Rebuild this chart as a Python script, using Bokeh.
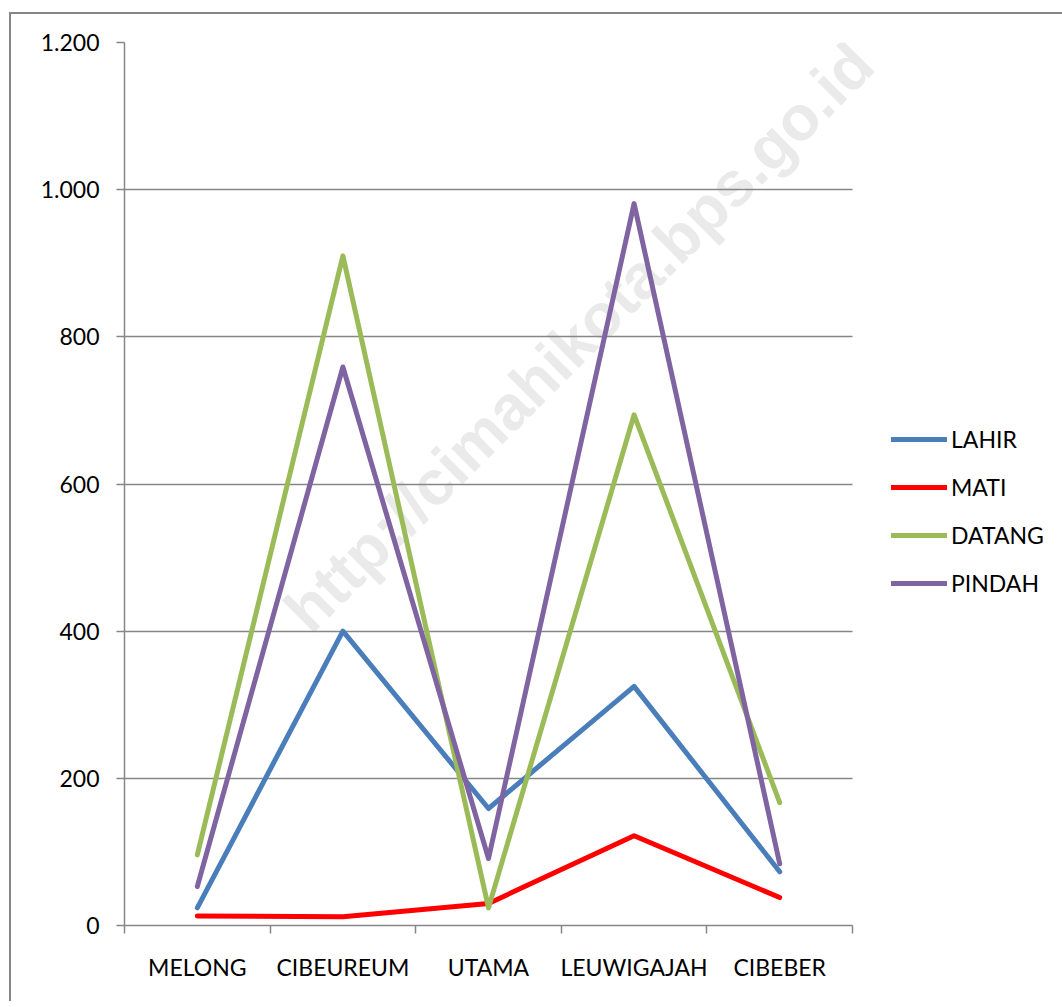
from bokeh.plotting import figure
from bokeh.models import FixedTicker, Legend, LegendItem, Label, Range1d
from bokeh.embed import file_html
from bokeh.resources import INLINE

categories = ["MELONG", "CIBEUREUM", "UTAMA", "LEUWIGAJAH", "CIBEBER"]
lahir = [24, 400, 159, 325, 73]
mati = [13, 12, 30, 122, 38]
datang = [96, 910, 24, 694, 167]
pindah = [53, 759, 91, 981, 84]
series_names = ["LAHIR", "MATI", "DATANG", "PINDAH"]
series_colors = ["#4A7EBB", "#FF0000", "#9BBB59", "#8064A2"]
y_ticks = [0, 200, 400, 600, 800, 1000, 1200]
y_tick_labels = ["0", "200", "400", "600", "800", "1.000", "1.200"]
watermark = "http://cimahikota.bps.go.id"

FONT = "Lato"
GRAY = "#868686"

n = len(categories)
x = [i + 0.5 for i in range(n)]

# the plotting frame extends right to hold legend and watermark;
# axis and grid are bounded to the category area (728 px of 938 px)
FRAME_W = 938
x_end = n * FRAME_W / 728.0

p = figure(frame_width=FRAME_W, frame_height=883,
           x_range=Range1d(0, x_end), y_range=Range1d(0, 1200),
           output_backend="svg", toolbar_location=None,
           min_border_left=113, min_border_top=28,
           min_border_right=0, min_border_bottom=76)
p.styles = {"border-left": "2px solid #868686", "border-top": "2px solid #868686",
            "margin-top": "12px", "margin-left": "9px"}
p.outline_line_color = None
p.background_fill_color = "white"
p.border_fill_color = "white"

# watermark
wm = Label(x=3.12, y=800, text=watermark, angle=45, angle_units="deg",
           text_align="center", text_baseline="middle",
           text_font="Liberation Sans", text_font_style="bold",
           text_font_size="63px", text_color="#EAEAEA", level="image")
p.add_layout(wm)

# grid
p.xgrid.grid_line_color = None
p.ygrid.ticker = FixedTicker(ticks=y_ticks)
p.ygrid.grid_line_color = GRAY
p.ygrid.grid_line_width = 1.5
p.ygrid.cross_bounds = (0, n)

# y axis
ya = p.yaxis[0]
ya.ticker = FixedTicker(ticks=y_ticks)
ya.major_label_overrides = {t: l for t, l in zip(y_ticks, y_tick_labels)}
ya.axis_line_color = GRAY
ya.axis_line_width = 1.5
ya.major_tick_line_color = GRAY
ya.major_tick_line_width = 1.5
ya.major_tick_out = 8
ya.major_tick_in = 0
ya.minor_tick_line_color = None
ya.major_label_standoff = 17
ya.major_label_text_font = FONT
ya.major_label_text_font_size = "23px"
ya.major_label_text_color = "black"

# x axis
xa = p.xaxis[0]
xa.bounds = (0, n)
xa.ticker = FixedTicker(ticks=x, minor_ticks=list(range(n + 1)))
xa.major_label_overrides = {xv: c for xv, c in zip(x, categories)}
xa.axis_line_color = GRAY
xa.axis_line_width = 1.5
xa.major_tick_line_color = None
xa.major_tick_out = 0
xa.major_tick_in = 0
xa.minor_tick_line_color = GRAY
xa.minor_tick_line_width = 1.5
xa.minor_tick_out = 8
xa.minor_tick_in = 0
xa.major_label_standoff = 19
xa.major_label_text_font = FONT
xa.major_label_text_font_size = "23px"
xa.major_label_text_color = "black"

items = []
for name, vals, col in zip(series_names, [lahir, mati, datang, pindah], series_colors):
    r = p.line(x, vals, line_color=col, line_width=5, line_cap="round", line_join="round")
    items.append(LegendItem(label=name, renderers=[r]))

legend = Legend(items=items, location=(767, 328), padding=0, margin=0,
                border_line_color=None, background_fill_alpha=0,
                glyph_width=56, glyph_height=28, label_height=28, spacing=20,
                label_standoff=4, label_text_font=FONT, label_text_font_size="23px",
                label_text_color="black")
p.add_layout(legend)

open("out.html", "w").write(file_html(p, INLINE))
